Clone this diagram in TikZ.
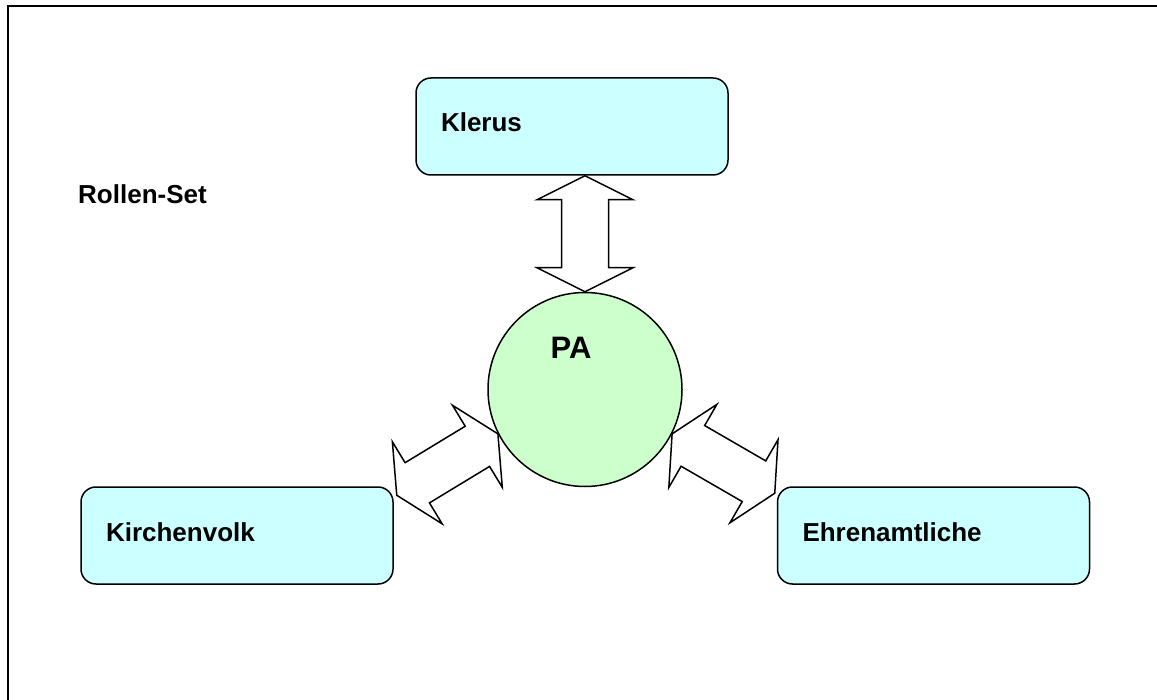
\documentclass[tikz,border=0pt]{standalone}
\usepackage{fontspec}
\setmainfont{Liberation Sans}
\usepackage{xcolor}
\usetikzlibrary{
  calc,
  positioning
}

\definecolor{rolecyan}{HTML}{CCFFFF}
\definecolor{pagreen}{HTML}{CCFFCC}

% block double arrow from tip #1 to tip #2
\newcommand{\rolearrow}[2]{%
\draw[link] (#1)
  -- ($(#1)!24pt!(#2)!48pt!90:(#2)$)
  -- ($(#1)!24pt!(#2)!23.5pt!90:(#2)$)
  -- ($(#2)!24pt!(#1)!23.5pt!-90:(#1)$)
  -- ($(#2)!24pt!(#1)!48pt!-90:(#1)$)
  -- (#2)
  -- ($(#2)!24pt!(#1)!48pt!90:(#1)$)
  -- ($(#2)!24pt!(#1)!23.5pt!90:(#1)$)
  -- ($(#1)!24pt!(#2)!23.5pt!-90:(#2)$)
  -- ($(#1)!24pt!(#2)!48pt!-90:(#2)$)
  -- cycle;}

\begin{document}
\begin{tikzpicture}[x=1pt, y=-1pt,
    every node/.style={font=\bfseries\fontsize{26}{30}\selectfont},
    role/.style={draw, line width=1.5pt, rounded corners=15pt, fill=rolecyan,
      minimum height=97pt, text width=262pt, inner xsep=25pt, inner ysep=0pt,
      align=left, text height=19pt, text depth=8pt},
    person/.style={draw, circle, line width=1.5pt, fill=pagreen,
      minimum size=194pt, inner sep=0pt},
    link/.style={line width=1.5pt, fill=white, line join=miter}]
\useasboundingbox (0,0) rectangle (1157,700);
\draw[line width=2pt] (8.3,700) |- (1157,6.5);

\node [role] (kl) at (572,126.5) {Klerus};
\node [role] (kv) at (237,535.5) {Kirchenvolk};
\node [role] (eh) at (933.5,535.5) {Ehrenamtliche};
\node [person] (pa) at (585,389.5) {};
\node (palabel) at ([shift={(-14,-42)}]pa.center) {\fontsize{31}{34}\selectfont PA};
\node [anchor=west, inner sep=0pt] (set) at (78,194) {Rollen-Set};

\coordinate (kltip) at (pa.north |- kl.south);
\coordinate (kvtip) at ([xshift=3pt, yshift=-9pt]kv.north east);
\coordinate (ehtip) at ([xshift=-2pt, yshift=-7pt]eh.north west);

\rolearrow{kltip}{pa.north}
\rolearrow{kvtip}{pa.207}
\rolearrow{pa.333}{ehtip}
\end{tikzpicture}
\end{document}
